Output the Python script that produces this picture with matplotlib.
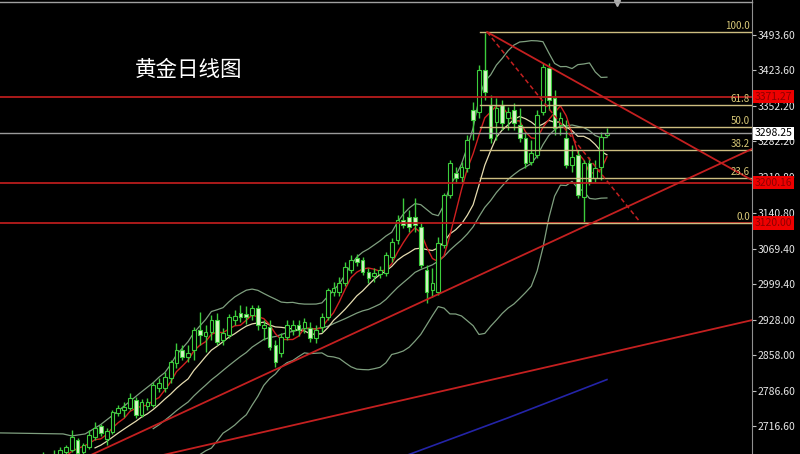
import numpy as np
import pandas as pd
import matplotlib
matplotlib.use('Agg')
import matplotlib.pyplot as plt
import matplotlib.transforms as mtransforms
from matplotlib.patches import Rectangle

plt.rcParams['font.family'] = ['Noto Sans CJK SC', 'DejaVu Sans']

# daily candles, oldest first
opens = [2629, 2645, 2639, 2649, 2665, 2669, 2689, 2665, 2675, 2695,
         2716, 2691, 2705, 2742, 2748, 2752, 2768, 2738, 2756, 2758,
         2792, 2792, 2812, 2841, 2867, 2853, 2867, 2907, 2895, 2903,
         2927, 2887, 2897, 2927, 2941, 2939, 2937, 2951, 2911, 2913,
         2877, 2861, 2893, 2907, 2917, 2911, 2911, 2891, 2913, 2933,
         2983, 2983, 3001, 3026, 3050, 3046, 3022, 3015, 3018, 3020,
         3052, 3086, 3126, 3132, 3132, 3112, 3026, 2987, 2983, 3076,
         3175, 3219, 3211, 3229, 3344, 3340, 3424, 3354, 3321, 3354,
         3328, 3344, 3315, 3289, 3241, 3255, 3340, 3428, 3368, 3315,
         3289, 3235, 3255, 3171, 3239, 3209, 3231, 3295]
highs = [2665, 2653, 2669, 2675, 2679, 2709, 2693, 2683, 2709, 2724,
         2720, 2712, 2748, 2758, 2764, 2782, 2774, 2770, 2772, 2804,
         2812, 2824, 2847, 2881, 2877, 2877, 2913, 2943, 2917, 2937,
         2941, 2911, 2939, 2947, 2957, 2955, 2957, 2957, 2927, 2927,
         2887, 2901, 2927, 2927, 2927, 2931, 2923, 2917, 2941, 2991,
         3003, 3013, 3042, 3056, 3058, 3052, 3030, 3030, 3034, 3062,
         3090, 3136, 3169, 3146, 3169, 3122, 3036, 3030, 3092, 3179,
         3245, 3231, 3241, 3295, 3360, 3434, 3498, 3374, 3368, 3364,
         3350, 3358, 3348, 3301, 3285, 3344, 3438, 3438, 3384, 3340,
         3325, 3275, 3265, 3245, 3251, 3245, 3301, 3309]
lows = [2619, 2625, 2629, 2643, 2653, 2665, 2657, 2657, 2671, 2689,
        2697, 2679, 2701, 2736, 2734, 2748, 2732, 2734, 2748, 2754,
        2784, 2784, 2802, 2831, 2847, 2843, 2847, 2877, 2863, 2887,
        2877, 2877, 2891, 2917, 2923, 2919, 2927, 2907, 2887, 2867,
        2833, 2853, 2887, 2897, 2895, 2901, 2883, 2881, 2903, 2927,
        2975, 2975, 2995, 3020, 3034, 3016, 3001, 3003, 3011, 3015,
        3042, 3078, 3110, 3102, 3102, 3030, 2961, 2973, 2977, 3070,
        3169, 3199, 3201, 3221, 3285, 3328, 3364, 3279, 3285, 3305,
        3305, 3305, 3281, 3229, 3235, 3249, 3334, 3344, 3295, 3295,
        3229, 3221, 3169, 3120, 3195, 3201, 3205, 3291]
closes = [2649, 2633, 2659, 2669, 2675, 2695, 2663, 2679, 2699, 2712,
          2703, 2707, 2744, 2752, 2754, 2772, 2738, 2764, 2764, 2798,
          2802, 2814, 2843, 2867, 2853, 2861, 2907, 2897, 2903, 2927,
          2883, 2901, 2933, 2935, 2933, 2933, 2951, 2917, 2917, 2873,
          2843, 2893, 2917, 2917, 2907, 2923, 2891, 2907, 2933, 2987,
          2991, 3001, 3032, 3046, 3042, 3022, 3011, 3020, 3026, 3056,
          3082, 3126, 3116, 3112, 3116, 3036, 2983, 3001, 3080, 3175,
          3239, 3209, 3231, 3285, 3325, 3424, 3380, 3289, 3348, 3319,
          3340, 3319, 3289, 3239, 3259, 3334, 3430, 3364, 3309, 3328,
          3235, 3251, 3175, 3239, 3201, 3229, 3291, 3298.25]

# upper band before 20 closes exist
bb_early_x = [-7.3, 3.5, 5.0, 7.3, 9.9, 12.8, 16.7]
bb_early_y = [2703, 2701, 2697, 2701, 2719, 2745, 2782]

# long moving average (blue)
ma_long_x = [62, 80, 97]
ma_long_y = [2656, 2733, 2809]

red_levels = [3371.27, 3200.16, 3120.00]
last_price = 3298.25
fib_low, fib_high = 3120.0, 3500.0
fib_ratios = [0.0, 0.236, 0.382, 0.5, 0.618, 1.0]
fib_labels = ['0.0', '23.6', '38.2', '50.0', '61.8', '100.0']
y_ticks = [3493.60, 3423.60, 3352.20, 3282.20, 3210.80, 3140.80,
           3069.40, 2999.40, 2928.00, 2858.00, 2786.60, 2716.60]

# trend lines: (x0, x1), (y0, y1)
trend_down = ([76.4, 121.9], [3499.6, 3205.5])
trend_up1 = ([5.0, 121.9], [2641.5, 3267.0])
trend_up2 = ([18.0, 121.9], [2652.0, 2927.0])
trend_dash = ([76.4, 102.7], [3499.6, 3122.0])

GREEN = '#3ccc3c'
BEAR_FILL = '#d6f5c6'
BAND = '#7f9f7f'

fig = plt.figure(figsize=(8, 4.54), dpi=100, facecolor='black')
ax = fig.add_axes([0, 0, 752 / 800, 1])
ax.set_facecolor('black')
ax.set_xlim(-7.34, 121.94)
ax.set_ylim(2661.1, 3563.2)

idx = np.arange(len(closes))
cl = pd.Series(closes)
ma5 = cl.rolling(5).mean()
ma10 = cl.rolling(10).mean()
mid = cl.rolling(20).mean()
sd = cl.rolling(20).std(ddof=0)
upper = mid + 2 * sd
lower = mid - 2 * sd

#bands and averages
up_x = bb_early_x + list(idx[19:])
up_y = bb_early_y + list(upper[19:])
ax.plot(up_x, up_y, color=BAND, lw=0.9, zorder=3)
ax.plot(idx, lower, color=BAND, lw=0.9, zorder=3)
ax.plot(idx, mid, color=BAND, lw=0.9, zorder=3)
ax.plot(idx, ma10, color='#e6dcb0', lw=0.9, zorder=3)
ax.plot(idx, ma5, color='#d02020', lw=1.0, zorder=3)
ax.plot(ma_long_x, ma_long_y, color='#2424a8', lw=1.2, zorder=3)

#candles
for i in idx:
    o, h, l, c = opens[i], highs[i], lows[i], closes[i]
    ax.vlines(i, l, h, color=GREEN, lw=1.0, zorder=4)
    bottom = min(o, c)
    height = max(abs(c - o), 1.0)
    face = 'black' if c >= o else BEAR_FILL
    ax.add_patch(Rectangle((i - 0.32, bottom), 0.64, height,
                           facecolor=face, edgecolor=GREEN, lw=0.8, zorder=5))

#horizontal levels
for lv in red_levels:
    ax.axhline(lv, color='#b81c1c', lw=1.3, zorder=6)
ax.axhline(last_price, color='#9a9a9a', lw=1.0, zorder=6)

#fibonacci
for r, lab in zip(fib_ratios, fib_labels):
    lv = fib_low + r * (fib_high - fib_low)
    ax.plot([75.2, 121.94], [lv, lv], color='#cdbd80', lw=1.0, zorder=6)
    ax.text(121.6, lv + 2, lab, color='#d8c878', fontsize=7,
            ha='right', va='bottom', zorder=7)

#trend lines
for tl in (trend_down, trend_up1, trend_up2):
    ax.plot(tl[0], tl[1], color='#c42020', lw=1.3, zorder=6)
ax.plot(trend_dash[0], trend_dash[1], color='#c42020', lw=1.1,
        ls=(0, (3, 2)), zorder=6)

ax.plot([98.7], [3557], marker='v', color='#b0b0b0', ms=5, zorder=7)

#axis
for s in ('top', 'left', 'bottom'):
    ax.spines[s].set_visible(False)
ax.spines['right'].set_color('#909090')
ax.set_xticks([])
ax.yaxis.tick_right()
ax.set_yticks(y_ticks)
ax.set_yticklabels(['%.2f' % v for v in y_ticks])
ax.tick_params(axis='y', direction='out', length=3, color='#c0c0c0',
               labelcolor='#e8e8e8', labelsize=7.5, pad=1)

trans = mtransforms.blended_transform_factory(ax.transAxes, ax.transData)
for lv in red_levels:
    ax.text(1.004, lv, '%.2f' % lv, transform=trans, fontsize=7.5,
            color='#8c0000', ha='left', va='center', clip_on=False,
            zorder=8,
            bbox=dict(boxstyle='square,pad=0.15', fc='#ee0000', ec='none'))
ax.text(1.004, last_price, '%.2f' % last_price, transform=trans,
        fontsize=7.5, color='black', ha='left', va='center', clip_on=False,
        zorder=8, bbox=dict(boxstyle='square,pad=0.15', fc='white', ec='none'))

fig.add_artist(plt.Line2D([0, 752 / 800], [1 - 1.5 / 454] * 2,
                          color='#a0a0a0', lw=1.0))
fig.text(189 / 800, 1 - 70 / 454, '黄金日线图', color='white',
         fontsize=15.5, ha='center', va='center')

fig.savefig('out.png', dpi=100, facecolor='black')
